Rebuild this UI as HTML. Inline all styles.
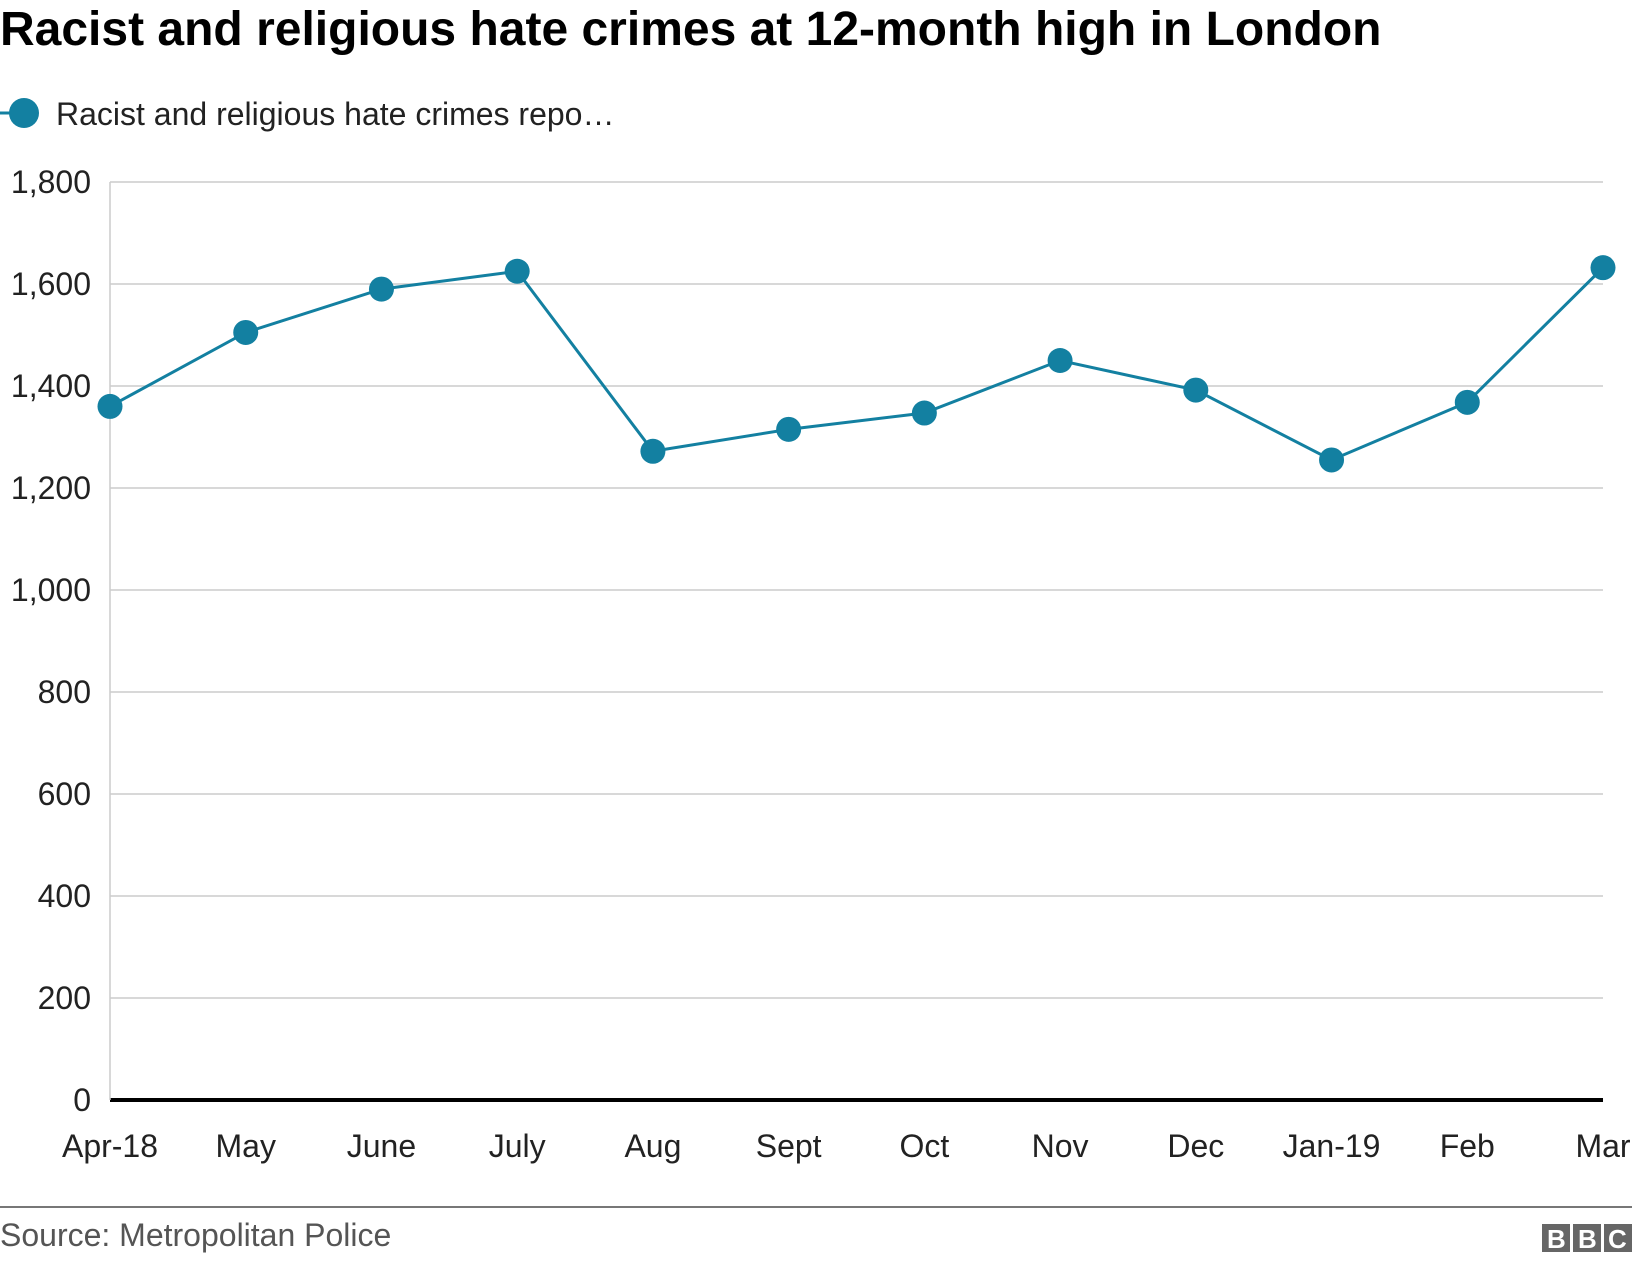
<!DOCTYPE html>
<html><head><meta charset="utf-8"><style>
body{margin:0;background:#fff;font-family:"Liberation Sans",Arial,sans-serif;}
svg{display:block}
</style></head><body>
<svg width="1632" height="1262" viewBox="0 0 1632 1262">
<text x="0" y="45" font-size="48" font-weight="bold" fill="#000">Racist and religious hate crimes at 12-month high in London</text>
<g>
<line x1="0" y1="113" x2="22" y2="113" stroke="#1380A1" stroke-width="3"/>
<circle cx="24" cy="113" r="15" fill="#1380A1"/>
<text x="56" y="125" font-size="32" fill="#222">Racist and religious hate crimes repo…</text>
</g>
<g id="grid"></g><g id="yt"></g><g id="xt"></g><g id="series"></g>
<line x1="0" y1="1207" x2="1632" y2="1207" stroke="#777" stroke-width="2"/>
<text x="0" y="1246" font-size="32" fill="#555">Source: Metropolitan Police</text>
<g font-size="26" font-weight="bold" fill="#fff">
<rect x="1542" y="1224" width="28" height="28" fill="#666"/><text x="1547" y="1248">B</text>
<rect x="1573" y="1224" width="28" height="28" fill="#666"/><text x="1578" y="1248">B</text>
<rect x="1604" y="1224" width="28" height="28" fill="#666"/><text x="1608" y="1248">C</text>
</g>
</svg>
<script>
const categories=["Apr-18","May","June","July","Aug","Sept","Oct","Nov","Dec","Jan-19","Feb","Mar"];
const values=[1360,1505,1590,1625,1272,1315,1347,1450,1392,1255,1368,1632];
const yTicks=[0,200,400,600,800,1000,1200,1400,1600,1800];
const yTickLabels=["0","200","400","600","800","1,000","1,200","1,400","1,600","1,800"];
const NS="http://www.w3.org/2000/svg";
const L=110,R=1603,T=182,B=1100;
const x=i=>L+(R-L)*i/(categories.length-1);
const y=v=>B-(B-T)*v/1800;
function mk(tag,attrs,parent,text){const e=document.createElementNS(NS,tag);for(const k in attrs)e.setAttribute(k,attrs[k]);if(text!=null)e.textContent=text;document.getElementById(parent).appendChild(e);return e;}
yTicks.forEach((t,i)=>{
 if(t!==0){const g=mk('line',{x1:L,x2:R,y1:y(t),y2:y(t),stroke:'#cccccc','stroke-width':1.5},'grid');
 
 }
 const tx=mk('text',{x:91,y:y(t)+11,'font-size':32,'text-anchor':'end',fill:'#222'},'yt',yTickLabels[i]);
 
 
});
const ax=mk('line',{x1:L,x2:R,y1:B,y2:B,stroke:'#000','stroke-width':4},'grid');


const yl=mk('line',{x1:L,x2:L,y1:T,y2:B,stroke:'#cccccc','stroke-width':1.5},'grid');


categories.forEach((c,i)=>{
 const tx=mk('text',{x:x(i),y:1157,'font-size':32,'text-anchor':'middle',fill:'#222'},'xt',c);
 
 
});
const pl=mk('polyline',{points:values.map((v,i)=>x(i)+','+y(v)).join(' '),fill:'none',stroke:'#1380A1','stroke-width':3},'series');


values.forEach((v,i)=>{
 const c=mk('circle',{cx:x(i),cy:y(v),r:12.5,fill:'#1380A1'},'series');
 
 
});
</script>
</body></html>
